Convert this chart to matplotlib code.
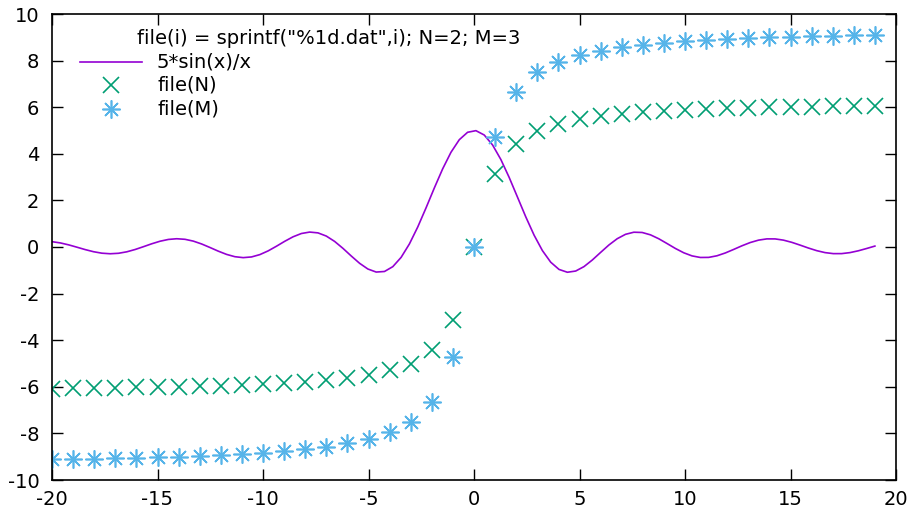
import numpy as np
import matplotlib
matplotlib.use("Agg")
import matplotlib.pyplot as plt
from matplotlib.lines import Line2D

plt.rcParams['font.family'] = ['DejaVu Sans']
plt.rcParams['axes.unicode_minus'] = False

x_pts = list(range(-20, 20))
file_N = [-6.08, -6.07, -6.06, -6.05, -6.03, -6.02, -6.00, -5.98, -5.95, -5.92,
          -5.88, -5.84, -5.79, -5.72, -5.62, -5.49, -5.30, -5.00, -4.43, -3.14,
          0.00, 3.14, 4.43, 5.00, 5.30, 5.49, 5.62, 5.72, 5.79, 5.84,
          5.88, 5.92, 5.95, 5.98, 6.00, 6.02, 6.03, 6.05, 6.06, 6.07]
file_M = [-9.12, -9.11, -9.09, -9.07, -9.05, -9.03, -9.00, -8.96, -8.93, -8.88,
          -8.83, -8.76, -8.68, -8.57, -8.43, -8.24, -7.95, -7.49, -6.64, -4.71,
          0.00, 4.71, 6.64, 7.49, 7.95, 8.24, 8.43, 8.57, 8.68, 8.76,
          8.83, 8.88, 8.93, 8.96, 9.00, 9.03, 9.05, 9.07, 9.09, 9.11]

# plotted function, as labelled in the key: 5*sin(x)/x, sampled over the data range
x_fn = np.linspace(-20, 19, 100)
y_fn = 5 * np.sin(x_fn) / x_fn

key_title = 'file(i) = sprintf("%1d.dat",i); N=2; M=3'
labels = ['5*sin(x)/x', 'file(N)', 'file(M)']
colors = ['#9400d3', '#009e73', '#56b4e9']
x_ticks = [-20, -15, -10, -5, 0, 5, 10, 15, 20]
y_ticks = [-10, -8, -6, -4, -2, 0, 2, 4, 6, 8, 10]

W, H = 915, 513
FS = 14
fig = plt.figure(figsize=(W / 100, H / 100), dpi=100)
ax = fig.add_axes([52 / W, 1 - 480 / H, (896 - 52) / W, (480 - 14) / H])

fn_style = dict(color=colors[0], lw=1.2)
n_style = dict(ls='none', marker='x', ms=12, mew=1.2, color=colors[1])
m_style = dict(ls='none', marker=(8, 2, 0), ms=13, mew=1.2, color=colors[2])

ax.plot(x_fn, y_fn, **fn_style)
ax.plot(x_pts, file_N, **n_style)
ax.plot(x_pts, file_M, **m_style)

ax.set_xlim(-20, 20)
ax.set_ylim(-10, 10)
ax.set_xticks(x_ticks)
ax.set_yticks(y_ticks)
ax.tick_params(direction='in', length=8, width=1, top=True, right=True,
               labelsize=FS)
ax.tick_params(axis='y', pad=9)
ax.tick_params(axis='x', pad=7)
for s in ax.spines.values():
    s.set_linewidth(1.2)

# key (gnuplot style), positioned in figure pixels
def fx(px):
    return px / W

def fy(py):
    return 1 - py / H

fig.text(fx(137), fy(38), key_title, fontsize=FS, va='center', ha='left')
rows = [62, 85, 109]
fig.add_artist(Line2D([fx(80), fx(142)], [fy(rows[0])] * 2, transform=fig.transFigure, **fn_style))
fig.add_artist(Line2D([fx(111)], [fy(rows[1])], transform=fig.transFigure, **n_style))
fig.add_artist(Line2D([fx(111)], [fy(rows[2])], transform=fig.transFigure, **m_style))
for r, lab in zip(rows, labels):
    fig.text(fx(157), fy(r), lab, fontsize=FS, va='center', ha='left')

fig.savefig('out.png', dpi=100)
